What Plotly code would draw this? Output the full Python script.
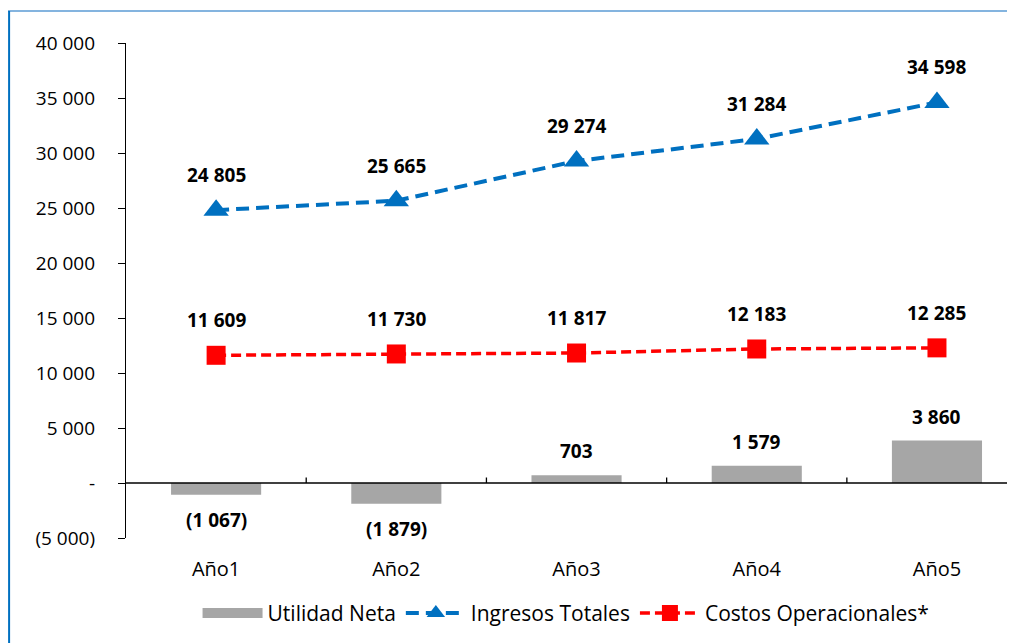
import plotly.graph_objects as go

categories = ["Año1", "Año2", "Año3", "Año4", "Año5"]
utilidad_neta = [-1067, -1879, 703, 1579, 3860]
ingresos_totales = [24805, 25665, 29274, 31284, 34598]
costos_operacionales = [11609, 11730, 11817, 12183, 12285]

y_tickvals = [-5000, 0, 5000, 10000, 15000, 20000, 25000, 30000, 35000, 40000]
y_ticktext = ["(5 000)", "-", "5 000", "10 000", "15 000", "20 000", "25 000", "30 000", "35 000", "40 000"]

FONT = "Open Sans, Lato, DejaVu Sans, sans-serif"
BLUE = "#0070C0"
RED = "#FF0000"
GRAY = "#A6A6A6"


def fmt(v):
    s = f"{abs(v):,}".replace(",", " ")
    return f"({s})" if v < 0 else s


fig = go.Figure()
fig.add_trace(go.Bar(
    x=categories, y=utilidad_neta, name="Utilidad Neta", showlegend=False,
    legendgroup="un",
    marker=dict(color=GRAY, line=dict(width=0)), width=0.5,
))
# legend entry for the bars (wide gray swatch)
fig.add_trace(go.Scatter(
    x=[None], y=[None], name="Utilidad Neta", legendgroup="un",
    mode="lines", line=dict(color=GRAY, width=14),
))
fig.add_trace(go.Scatter(
    x=categories, y=ingresos_totales, name="Ingresos Totales",
    mode="lines+markers",
    line=dict(color=BLUE, width=4, dash="13px,7px"),
    marker=dict(symbol="triangle-up", size=22, color=BLUE),
))
fig.add_trace(go.Scatter(
    x=categories, y=costos_operacionales, name="Costos Operacionales*",
    mode="lines+markers",
    line=dict(color=RED, width=3.5, dash="10px,5px"),
    marker=dict(symbol="square", size=19, color=RED),
))

annotations = []
lab_font = dict(family=FONT, size=19, color="#000000")
for c, v in zip(categories, ingresos_totales):
    annotations.append(dict(x=c, y=v, text=f"<b>{fmt(v)}</b>", showarrow=False,
                            yshift=35, font=lab_font))
for c, v in zip(categories, costos_operacionales):
    annotations.append(dict(x=c, y=v, text=f"<b>{fmt(v)}</b>", showarrow=False,
                            yshift=35, font=lab_font))
for c, v in zip(categories, utilidad_neta):
    annotations.append(dict(x=c, y=v, text=f"<b>{fmt(v)}</b>", showarrow=False,
                            yshift=24 if v >= 0 else -25, font=lab_font))

# partially visible title at the top (clipped in the reference)
annotations.append(dict(xref="paper", yref="paper", x=0.402, y=1.0667,
                        xanchor="center", yanchor="bottom",
                        text="(En miles de US$)", showarrow=False,
                        font=dict(family=FONT, size=18, color="#000000")))

shapes = []
# zero line
shapes.append(dict(type="line", xref="paper", yref="y", x0=0, x1=1, y0=0, y1=0,
                   line=dict(color="#000000", width=1.3), layer="above"))
# category boundary ticks on the zero line
for i in range(len(categories) - 1):
    shapes.append(dict(type="line", xref="x", yref="y", x0=i + 0.5, x1=i + 0.5,
                       y0=0, y1=500, line=dict(color="#000000", width=1.3)))
# chart border (top and left)
shapes.append(dict(type="line", xref="paper", yref="paper", x0=-0.1373, x1=1.02,
                   y0=1.0646, y1=1.0646, line=dict(color="#5B9BD5", width=1.5)))
shapes.append(dict(type="line", xref="paper", yref="paper", x0=-0.1315, x1=-0.1315,
                   y0=1.0646, y1=-0.25, line=dict(color="#0070C0", width=2)))

fig.update_layout(
    width=1015, height=643,
    margin=dict(l=118, r=8, t=35, b=113, autoexpand=False),
    paper_bgcolor="white", plot_bgcolor="white",
    font=dict(family=FONT, size=18, color="#000000"),
    showlegend=True,
    legend=dict(orientation="h", x=0.495, y=-0.152, xanchor="center", yanchor="middle",
                font=dict(family=FONT, size=21, color="#000000"),
                itemwidth=60, traceorder="normal", tracegroupgap=0),
    annotations=annotations,
    shapes=shapes,
    hovermode=False,
    bargap=0.5,
)
fig.update_xaxes(
    type="category", range=[-0.5, 4.433], showgrid=False, zeroline=False,
    showline=False, ticks="", tickfont=dict(family=FONT, size=20, color="#000000"),
    ticklabelstandoff=17, automargin=False,
)
fig.update_yaxes(
    range=[-5000, 40000], tickvals=y_tickvals, ticktext=y_ticktext,
    showgrid=False, zeroline=False, showline=True, linecolor="#000000", linewidth=1.3,
    ticks="outside", ticklen=7, tickcolor="#000000", tickwidth=1.3,
    tickfont=dict(family=FONT, size=19, color="#000000"),
    ticklabelstandoff=19, automargin=False,
)

fig.write_html("out.html")
